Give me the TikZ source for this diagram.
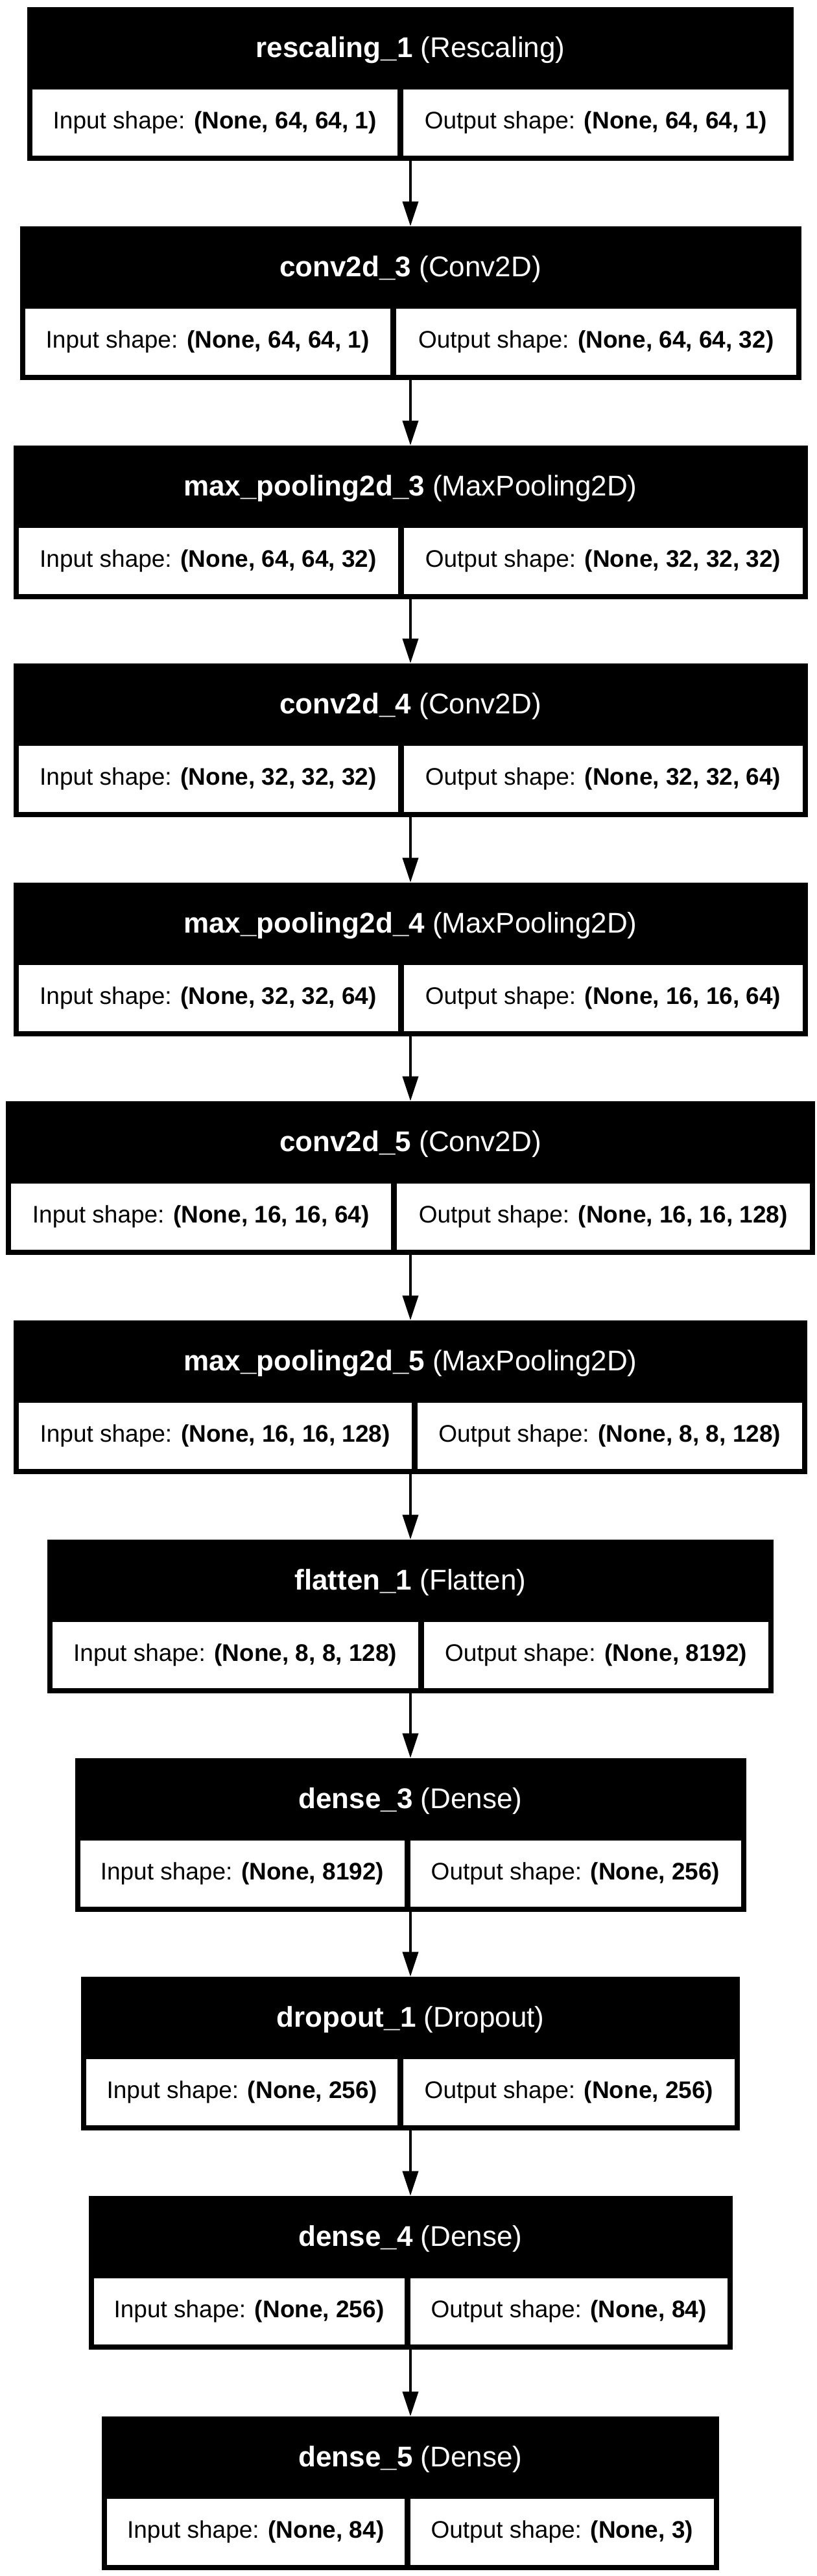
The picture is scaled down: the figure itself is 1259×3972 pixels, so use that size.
\documentclass[tikz,border=0pt]{standalone}
\usepackage{fontspec}
\setmainfont{Liberation Sans}
\usepackage{tikz}
\usetikzlibrary{arrows.meta}
\tikzset{
  layer/.style={fill=black, inner sep=0pt, minimum height=118.5pt},
  title/.style={text=white, inner sep=0pt, font=\fontsize{22}{26}\selectfont},
  cell/.style={fill=white, inner sep=0pt, minimum height=51pt, font=\fontsize{18.5}{22}\selectfont},
  flow/.style={line width=2pt, -{Triangle[length=19pt,width=12pt]}}
}
% #1 name, #2 top, #3 half width, #4 divider, #5 title, #6 input, #7 output
\newcommand\layernode[7]{%
  \pgfmathsetmacro\lx{633-#3+8}
  \pgfmathsetmacro\rx{633+#3-8}
  \pgfmathsetmacro\lw{(#4-4.5-\lx)*0.5}
  \pgfmathsetmacro\rw{(\rx-#4-4.5)*0.5}
  \node[layer, minimum width=#3pt] (#1) at (633,#2+118.5) {};
  \node[title] (#1-t) at (633,#2+66) {#5};
  \node[cell, minimum width=\lw pt] (#1-in) at ({(\lx+#4-4.5)/2},#2+178) {Input shape: \textbf{#6}};
  \node[cell, minimum width=\rw pt] (#1-out) at ({(\rx+#4+4.5)/2},#2+178) {Output shape: \textbf{#7}};
}

\begin{document}
\begin{tikzpicture}[x=0.5pt, y=-0.5pt]
  \useasboundingbox (0,0) rectangle (1259,3972);

  \layernode{rescaling}{11}{591}{617}{\textbf{rescaling\_1} (Rescaling)}{(None, 64, 64, 1)}{(None, 64, 64, 1)}
  \layernode{conv3}{349}{602.5}{606.5}{\textbf{conv2d\_3} (Conv2D)}{(None, 64, 64, 1)}{(None, 64, 64, 32)}
  \layernode{pool3}{687}{612.5}{618}{\textbf{max\_pooling2d\_3} (MaxPooling2D)}{(None, 64, 64, 32)}{(None, 32, 32, 32)}
  \layernode{conv4}{1023}{612.5}{618}{\textbf{conv2d\_4} (Conv2D)}{(None, 32, 32, 32)}{(None, 32, 32, 64)}
  \layernode{pool4}{1361}{612.5}{618}{\textbf{max\_pooling2d\_4} (MaxPooling2D)}{(None, 32, 32, 64)}{(None, 16, 16, 64)}
  \layernode{conv5}{1698}{624}{607}{\textbf{conv2d\_5} (Conv2D)}{(None, 16, 16, 64)}{(None, 16, 16, 128)}
  \layernode{pool5}{2036}{612}{639}{\textbf{max\_pooling2d\_5} (MaxPooling2D)}{(None, 16, 16, 128)}{(None, 8, 8, 128)}
  \layernode{flatten}{2374}{560}{649}{\textbf{flatten\_1} (Flatten)}{(None, 8, 8, 128)}{(None, 8192)}
  \layernode{dense3}{2711}{517.5}{628}{\textbf{dense\_3} (Dense)}{(None, 8192)}{(None, 256)}
  \layernode{dropout}{3048}{508}{617.5}{\textbf{dropout\_1} (Dropout)}{(None, 256)}{(None, 256)}
  \layernode{dense4}{3386}{496.5}{628}{\textbf{dense\_4} (Dense)}{(None, 256)}{(None, 84)}
  \layernode{dense5}{3726}{476}{628}{\textbf{dense\_5} (Dense)}{(None, 84)}{(None, 3)}

  % arrows
  \draw[flow] (rescaling.south) -- (conv3.north);
  \draw[flow] (conv3.south) -- (pool3.north);
  \draw[flow] (pool3.south) -- (conv4.north);
  \draw[flow] (conv4.south) -- (pool4.north);
  \draw[flow] (pool4.south) -- (conv5.north);
  \draw[flow] (conv5.south) -- (pool5.north);
  \draw[flow] (pool5.south) -- (flatten.north);
  \draw[flow] (flatten.south) -- (dense3.north);
  \draw[flow] (dense3.south) -- (dropout.north);
  \draw[flow] (dropout.south) -- (dense4.north);
  \draw[flow] (dense4.south) -- (dense5.north);
\end{tikzpicture}
\end{document}
